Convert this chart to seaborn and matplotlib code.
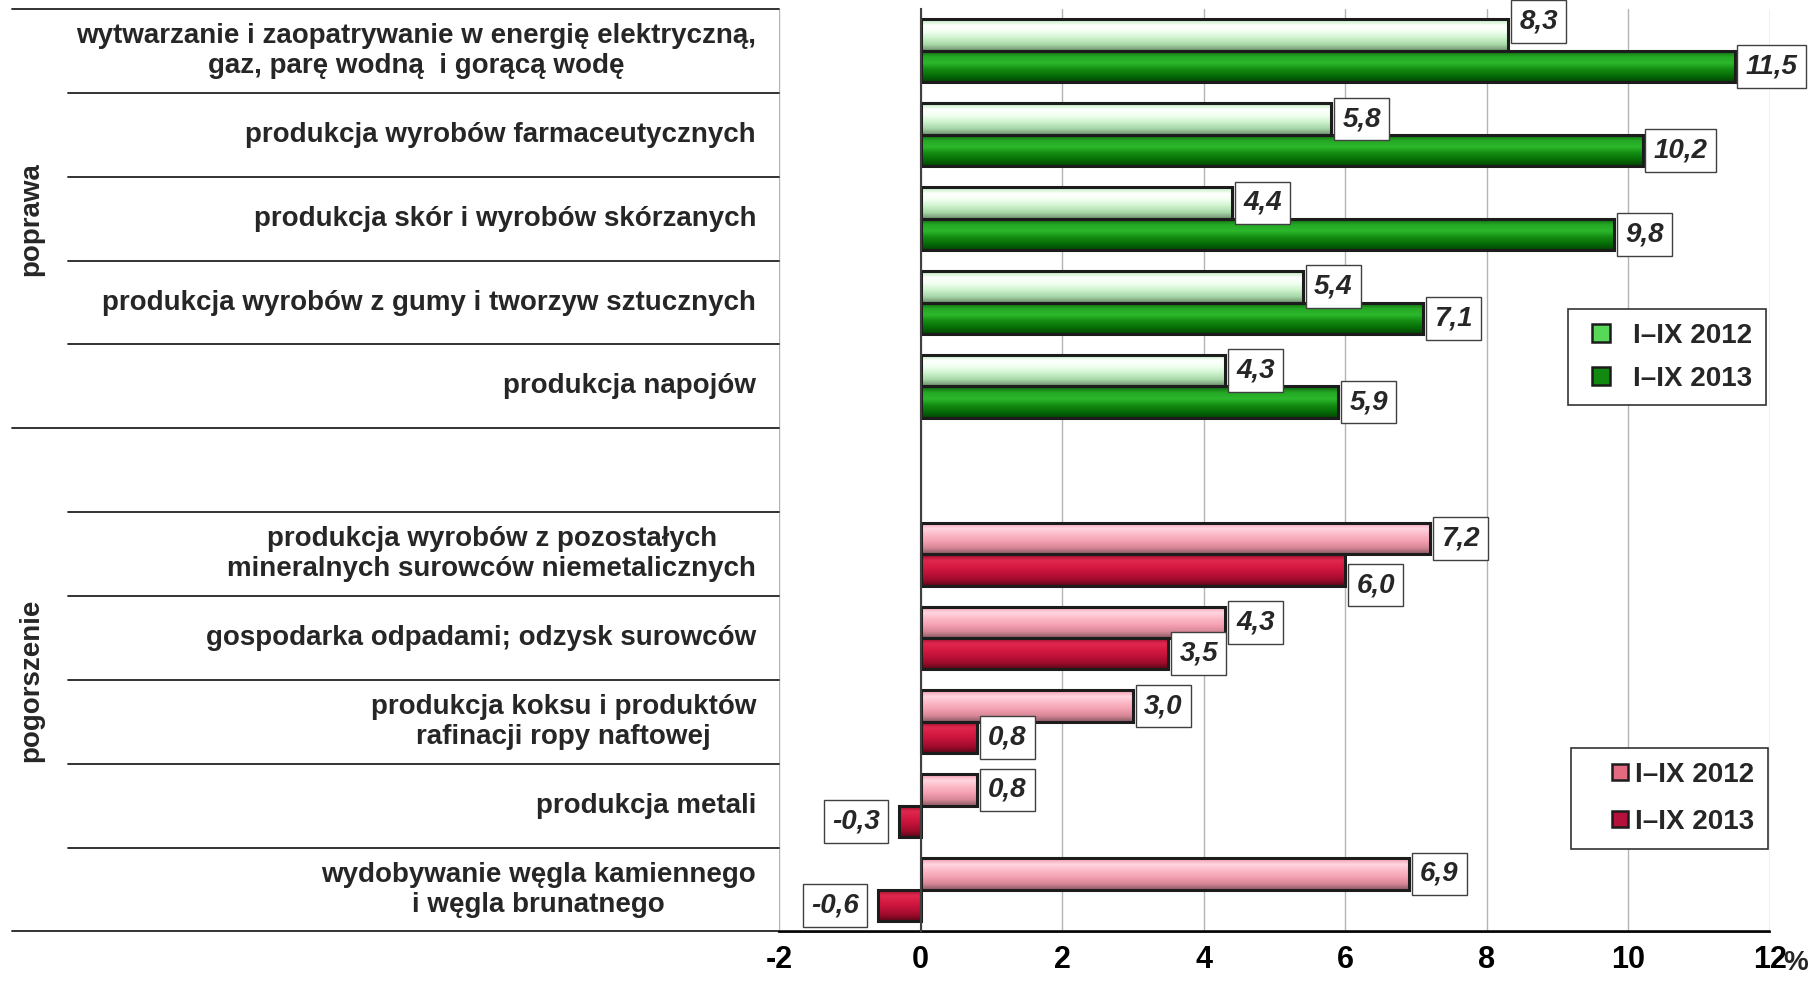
import numpy as np
import pandas as pd
import matplotlib
matplotlib.use("Agg")
import matplotlib.pyplot as plt
import matplotlib.transforms as mtransforms
from matplotlib.colors import to_rgb, to_rgba
from matplotlib.lines import Line2D
import seaborn as sns

#-----
# Dane
#-----
poprawa = [
    "wytwarzanie i zaopatrywanie w energię elektryczną,\ngaz, parę wodną  i gorącą wodę",
    "produkcja wyrobów farmaceutycznych",
    "produkcja skór i wyrobów skórzanych",
    "produkcja wyrobów z gumy i tworzyw sztucznych",
    "produkcja napojów",
]
poprawa_2012 = [8.3, 5.8, 4.4, 5.4, 4.3]
poprawa_2013 = [11.5, 10.2, 9.8, 7.1, 5.9]

pogorszenie = [
    "produkcja wyrobów z pozostałych\nmineralnych surowców niemetalicznych",
    "gospodarka odpadami; odzysk surowców",
    "produkcja koksu i produktów\nrafinacji ropy naftowej",
    "produkcja metali",
    "wydobywanie węgla kamiennego\ni węgla brunatnego",
]
pogorszenie_2012 = [7.2, 4.3, 3.0, 0.8, 6.9]
pogorszenie_2013 = [6.0, 3.5, 0.8, -0.3, -0.6]

okresy = ["I–IX 2012", "I–IX 2013"]
xticks = [-2, 0, 2, 4, 6, 8, 10, 12]

# kolejnosc osi: poprawa, pusta linia, pogorszenie
kolejnosc = poprawa + [" "] + pogorszenie

# kolory (gradient od gory do dolu)
zielony_jasny = ["#b8e8b8", "#ffffff", "#f0fff0", "#cdf2cd", "#a8d8a8", "#6f8f6f"]
zielony_ciemny = ["#0b5e0b", "#25a825", "#2cb82c", "#138c13", "#066e06", "#034403"]
rozowy = ["#f29aae", "#ffd6e0", "#fbb8c6", "#f4a0b2", "#d88898", "#8c5a66"]
czerwony = ["#9a0b2a", "#e0284e", "#d61a42", "#c0123a", "#a00c2c", "#5e0618"]

# przesuniecia pionowe niektorych etykiet (w punktach)
przesuniecia = {"8,3": 10, "6,0": -11}


def tabela(kat, v12, v13, grupa):
    rows = []
    for k, a, b in zip(kat, v12, v13):
        rows.append({"branza": k, "okres": okresy[0], "wartosc": a, "grupa": grupa})
        rows.append({"branza": k, "okres": okresy[1], "wartosc": b, "grupa": grupa})
    return pd.DataFrame(rows)


df_pop = tabela(poprawa, poprawa_2012, poprawa_2013, "poprawa")
df_pog = tabela(pogorszenie, pogorszenie_2012, pogorszenie_2013, "pogorszenie")

sns.set_style("white")
plt.rcParams["font.family"] = ["Liberation Sans", "DejaVu Sans"]

fig = plt.figure(figsize=(18.10, 9.81), dpi=100)
ax = fig.add_axes([779 / 1810, 1 - 931.5 / 981, (1770 - 779) / 1810, (931.5 - 9) / 981])

sns.barplot(data=df_pop, y="branza", x="wartosc", hue="okres", order=kolejnosc,
            hue_order=okresy, palette=["#ccffcc", "#118811"], orient="h",
            width=0.75, saturation=1, legend=False, ax=ax)
sns.barplot(data=df_pog, y="branza", x="wartosc", hue="okres", order=kolejnosc,
            hue_order=okresy, palette=["#ffbbcc", "#cc1144"], orient="h",
            width=0.75, saturation=1, legend=False, ax=ax)

gradienty = {
    to_rgba("#ccffcc"): zielony_jasny,
    to_rgba("#118811"): zielony_ciemny,
    to_rgba("#ffbbcc"): rozowy,
    to_rgba("#cc1144"): czerwony,
}

# gradient (efekt wypuklosci) + etykiety
for p in list(ax.patches):
    fc = tuple(p.get_facecolor())
    stops = None
    for k, v in gradienty.items():
        if np.allclose(k, fc, atol=0.01):
            stops = v
    if stops is None or p.get_width() == 0:
        continue
    x0, y0, w, h = p.get_x(), p.get_y(), p.get_width(), p.get_height()
    cols = np.array([to_rgb(c) for c in stops])
    t = np.linspace(0, 1, 60)
    tp = np.linspace(0, 1, len(stops))
    arr = np.stack([np.interp(t, tp, cols[:, i]) for i in range(3)], axis=1)[:, None, :]
    im = ax.imshow(arr, extent=(x0, x0 + w, y0, y0 + h), origin="lower",
                   aspect="auto", interpolation="bilinear", zorder=2.5)
    im.set_clip_path(p)
    p.set_facecolor("none")
    p.set_edgecolor("#1c1c1c")
    p.set_linewidth(2.2)
    p.set_zorder(3)

    wart = p.get_width()
    tekst = f"{wart:.1f}".replace(".", ",")
    yc = y0 + h / 2
    dy = przesuniecia.get(tekst, 0)
    ramka = dict(boxstyle="square,pad=0.3", fc="white", ec="#404040", lw=1)
    if wart >= 0:
        ax.annotate(tekst, xy=(x0 + w, yc), xytext=(8, dy), textcoords="offset points",
                    ha="left", va="center", fontsize=20, fontweight="bold", style="italic",
                    bbox=ramka, zorder=5)
    else:
        ax.annotate(tekst, xy=(x0 + w, yc), xytext=(-14, dy), textcoords="offset points",
                    ha="right", va="center", fontsize=20, fontweight="bold", style="italic",
                    bbox=ramka, zorder=5)

ax.set_xlim(-2, 12)
ax.set_ylim(10.5, -0.5)
ax.set_xlabel("")
ax.set_ylabel("")

# osie
ax.set_xticks(xticks)
ax.set_xticklabels([str(v) for v in xticks], fontsize=22, fontweight="bold")
ax.tick_params(axis="x", length=7, width=1, direction="out", pad=3, colors="black")
ax.set_yticks([])
ax.set_yticks(np.arange(-0.5, 10.6, 1), minor=True)
ax.tick_params(axis="y", which="minor", length=5, width=1.2, direction="out", color="#202020")
ax.grid(True, axis="x", color="#b4b4b4", linewidth=1)
ax.set_axisbelow(True)
ax.spines["left"].set_position(("data", 0))
ax.spines["left"].set_color("#404040")
ax.spines["left"].set_linewidth(1.5)
ax.spines["left"].set_zorder(4)
ax.spines["top"].set_visible(False)
ax.spines["right"].set_visible(False)
ax.spines["bottom"].set_color("black")
ax.spines["bottom"].set_linewidth(1.3)

fig.text(1808 / 1810, 1 - 963 / 981, "%", fontsize=20, fontweight="bold",
         ha="right", va="center")

# tabela po lewej stronie
tr = mtransforms.blended_transform_factory(fig.transFigure, ax.transData)
x_lewo_grupa = 12 / 1810
x_lewo_kat = 68 / 1810
x_prawo = 779 / 1810
for yb in [-0.5, 4.5]:
    ax.add_line(Line2D([x_lewo_grupa, x_prawo], [yb, yb], transform=tr, color="#222222",
                       lw=1.3, clip_on=False))
ax.add_line(Line2D([x_lewo_grupa, 1770 / 1810], [10.5, 10.5], transform=tr, color="#222222",
                   lw=1.3, clip_on=False))
for yb in [0.5, 1.5, 2.5, 3.5, 5.5, 6.5, 7.5, 8.5, 9.5]:
    ax.add_line(Line2D([x_lewo_kat, x_prawo], [yb, yb], transform=tr, color="#222222",
                       lw=1.3, clip_on=False))

for i, k in enumerate(kolejnosc):
    if k.strip() == "":
        continue
    ax.text(756 / 1810, i, k, transform=tr, ha="right", va="center",
            multialignment="center", fontsize=20, fontweight="bold", linespacing=1.2)

ax.text(31 / 1810, 2.0, "poprawa", transform=tr, rotation=90, ha="center", va="center",
        fontsize=20, fontweight="bold")
ax.text(31 / 1810, 7.5, "pogorszenie", transform=tr, rotation=90, ha="center", va="center",
        fontsize=20, fontweight="bold")

# legendy
def znacznik(kolor, ms):
    return Line2D([], [], marker="s", ms=ms, mfc=kolor, mec="#1c1c1c", mew=1.8, ls="none")

h_zie = [znacznik("#58d858", 13), znacznik("#128a12", 13)]
leg1 = fig.legend(h_zie, okresy, loc="upper right", bbox_to_anchor=(1766 / 1810, 1 - 309 / 981),
                  borderaxespad=0, fancybox=False, edgecolor="#333333", framealpha=1,
                  handlelength=1.4, handletextpad=0.45,
                  labelspacing=0.6, borderpad=0.5,
                  prop={"size": 20, "weight": "bold"})
leg1.get_frame().set_linewidth(1.2)
h_roz = [znacznik("#e46a82", 11), znacznik("#b4123a", 11)]
leg2 = fig.legend(h_roz, okresy, loc="upper right", bbox_to_anchor=(1768 / 1810, 1 - 748 / 981),
                  borderaxespad=0, fancybox=False, edgecolor="#333333", framealpha=1,
                  handlelength=2.5, handletextpad=-0.7,
                  labelspacing=0.75, borderpad=0.5,
                  prop={"size": 20, "weight": "bold"})
leg2.get_frame().set_linewidth(1.2)

fig.savefig("out.png", dpi=100)
